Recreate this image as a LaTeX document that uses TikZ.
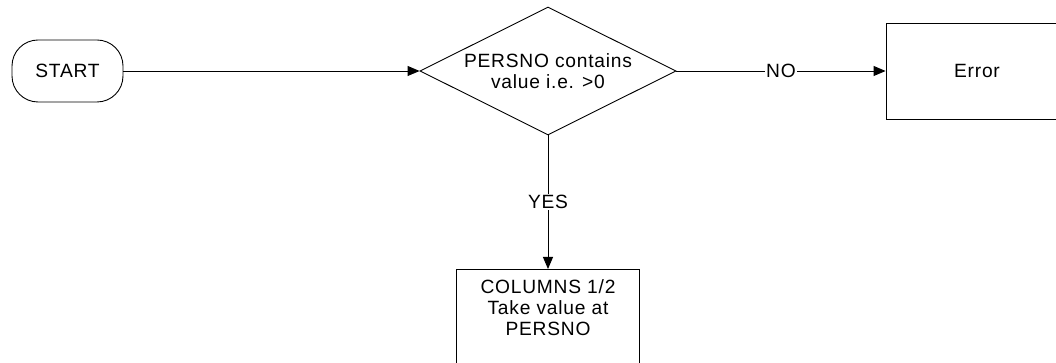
\documentclass[tikz,border=0pt]{standalone}
\usepackage{fontspec}
\setmainfont{Liberation Sans}[LetterSpace=4]
\usetikzlibrary{shapes.geometric,arrows.meta}
\begin{document}
\begin{tikzpicture}[x=1pt,y=1pt,
  every node/.style={font=\fontsize{19.2}{21}\selectfont, inner sep=0pt},
  shapeline/.style={draw=black, line width=0.9pt},
  term/.style={shapeline, rectangle, rounded corners=26pt, minimum width=111pt, minimum height=62pt},
  decision/.style={shapeline, diamond, minimum width=256pt, minimum height=128pt, shape aspect=2, align=center},
  procbox/.style={shapeline, rectangle, minimum width=182pt, minimum height=96pt},
  flow/.style={line width=0.9pt, -{Triangle[length=12pt,width=10pt]}},
  lbl/.style={fill=white, inner sep=1pt}
]
\useasboundingbox (0,0) rectangle (1056,363);
\begin{scope}
\clip (0,0) rectangle (1056,363);
\node[term] (start) at (67.5,292) {START};
\node[decision] (dec) at (548,292) {PERSNO contains\\value i.e. >0};
\node[procbox] (err) at (977,292) {Error};
\node[procbox, minimum width=183pt, anchor=north] (col) at (548,94) {};
\node[align=center] (coltext) at (548,55) {COLUMNS 1/2\\Take value at\\PERSNO};
\end{scope}
\draw[flow] (start.east) -- (dec.west);
\draw[flow] (dec.east) -- node[lbl] (no) {NO} (err.west);
\draw[flow] (dec.south) -- node[lbl] (yes) {YES} (col.north);
\end{tikzpicture}
\end{document}
